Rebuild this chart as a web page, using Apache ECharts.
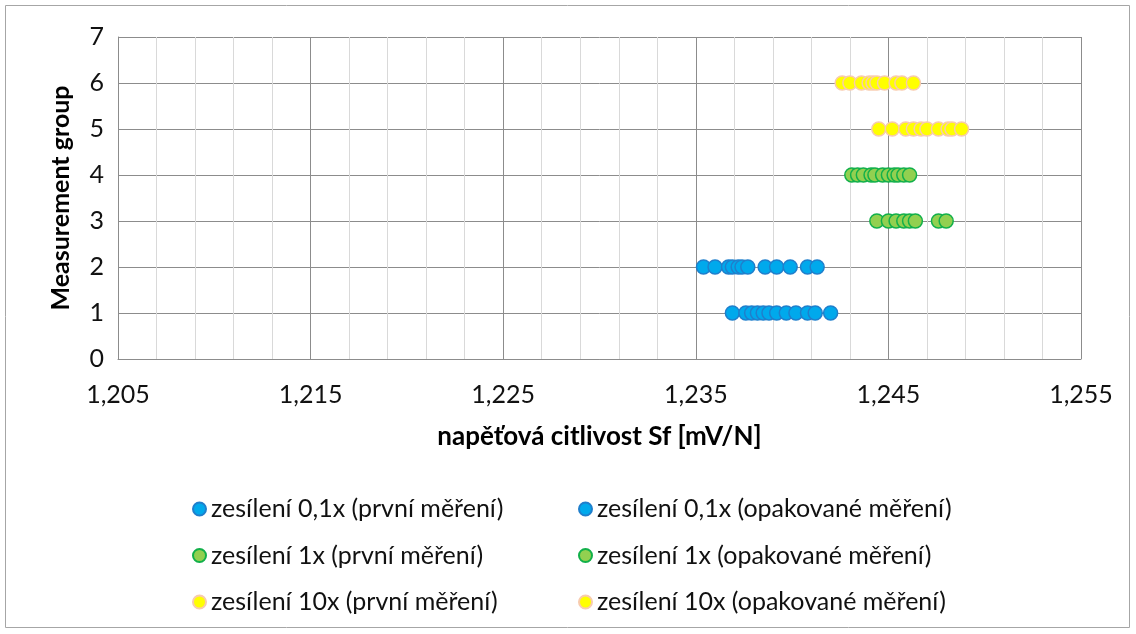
<!DOCTYPE html>
<html><head><meta charset="utf-8">
<script src="https://cdn.jsdelivr.net/npm/echarts@6/dist/echarts.min.js"></script>
<style>html,body{margin:0;padding:0;background:#fff}#c{width:1136px;height:634px}</style>
</head><body><div id="c"></div>
<script>
// ---- data ----
const seriesNames = [
  'zesílení 0,1x (první měření)', 'zesílení 0,1x (opakované měření)',
  'zesílení 1x (první měření)', 'zesílení 1x (opakované měření)',
  'zesílení 10x (první měření)', 'zesílení 10x (opakované měření)'
];
const seriesGroups = [1, 2, 3, 4, 5, 6];
const gain01First = [1.2369, 1.2376, 1.2379, 1.2382, 1.2385, 1.2388, 1.2392, 1.2397, 1.2402, 1.2408, 1.2412, 1.2420];
const gain01Repeat = [1.2354, 1.2360, 1.2367, 1.2369, 1.2372, 1.2374, 1.2377, 1.2386, 1.2392, 1.2399, 1.2408, 1.2413];
const gain1First = [1.2444, 1.2450, 1.2454, 1.2458, 1.2461, 1.2464, 1.2476, 1.2480];
const gain1Repeat = [1.2431, 1.2434, 1.2437, 1.2441, 1.2443, 1.2447, 1.2450, 1.2453, 1.2455, 1.2458, 1.2461];
const gain10First = [1.2445, 1.2452, 1.2459, 1.2463, 1.2467, 1.2470, 1.2476, 1.2481, 1.2483, 1.2488];
const gain10Repeat = [1.2426, 1.2430, 1.2436, 1.2440, 1.2442, 1.2444, 1.2448, 1.2454, 1.2457, 1.2463];
const xTickLabels = ['1,205', '1,215', '1,225', '1,235', '1,245', '1,255'];
const yTickLabels = ['0', '1', '2', '3', '4', '5', '6', '7'];
const xAxisTitle = 'napěťová citlivost Sf [mV/N]';
const yAxisTitle = 'Measurement group';
// ---- styles ----
const fills = ['#00A9EC', '#00A9EC', '#92D050', '#92D050', '#FFFF00', '#FFFF00'];
const borders = ['#1F7FCC', '#1F7FCC', '#12B04A', '#12B04A', '#F8CBAD', '#F8CBAD'];
const allX = [gain01First, gain01Repeat, gain1First, gain1Repeat, gain10First, gain10Repeat];
const FONT = 'Lato';

const series = allX.map((xs, i) => ({
  name: seriesNames[i], type: 'scatter', xAxisIndex: 0, yAxisIndex: 0,
  symbol: 'circle', symbolSize: 14,
  itemStyle: { color: fills[i], borderColor: borders[i], borderWidth: 1.5, opacity: 1 },
  data: xs.map(x => [x, seriesGroups[i]])
}));

const legendText = { fontFamily: FONT, fontSize: 25, lineHeight: 26, color: '#111' };

const chart = echarts.init(document.getElementById('c'), null, { renderer: 'canvas' });
chart.setOption({
  animation: false,
  backgroundColor: '#fff',
  textStyle: { fontFamily: FONT },
  graphic: [{ type: 'rect', shape: { x: 5.5, y: 5.5, width: 1124, height: 622 },
    style: { fill: 'none', stroke: '#A6A6A6', lineWidth: 1 }, z: -1 }],
  grid: { left: 118, top: 37, right: 55, bottom: 275, containLabel: false },
  xAxis: [
    { type: 'value', min: 1.205, max: 1.255, position: 'bottom',
      axisLine: { show: false }, axisTick: { show: false }, axisLabel: { show: false },
      splitLine: { show: false } },
    { type: 'value', min: 0, max: 50, interval: 2, position: 'top',
      axisLine: { show: false }, axisTick: { show: false }, axisLabel: { show: false },
      splitLine: { show: true, lineStyle: { color: '#D9D9D9', width: 1 } } },
    { type: 'value', min: 0, max: 50, interval: 10, position: 'bottom',
      name: xAxisTitle, nameLocation: 'middle', nameGap: 65,
      nameTextStyle: { fontFamily: FONT, fontSize: 26, fontWeight: 'bold', color: '#000' },
      axisLine: { show: true, lineStyle: { color: '#8C8C8C', width: 1 } },
      axisTick: { show: false },
      axisLabel: { show: true, margin: 23, fontFamily: FONT, fontSize: 25, color: '#111',
        formatter: (v) => xTickLabels[Math.round(v / 10)] },
      splitLine: { show: true, lineStyle: { color: '#8C8C8C', width: 1 } }, z: 2 }
  ],
  yAxis: [{ type: 'value', min: 0, max: 7, interval: 1,
    name: yAxisTitle, nameLocation: 'middle', nameGap: 45, nameRotate: 90,
    nameTextStyle: { fontFamily: FONT, fontSize: 25, fontWeight: 'bold', color: '#000' },
    axisLine: { show: true, lineStyle: { color: '#8C8C8C', width: 1 } },
    axisTick: { show: false },
    axisLabel: { margin: 14, fontFamily: FONT, fontSize: 25, color: '#111',
      formatter: (v) => yTickLabels[v] },
    splitLine: { show: true, lineStyle: { color: '#8C8C8C', width: 1 } } }],
  legend: [
    { orient: 'vertical', left: 187, top: 491, itemGap: 20.5, itemWidth: 13, itemHeight: 13,
      icon: 'circle', data: [seriesNames[0], seriesNames[2], seriesNames[4]], textStyle: legendText },
    { orient: 'vertical', left: 573, top: 491, itemGap: 20.5, itemWidth: 13, itemHeight: 13,
      icon: 'circle', data: [seriesNames[1], seriesNames[3], seriesNames[5]], textStyle: legendText }
  ],
  series: series
});
</script></body></html>
